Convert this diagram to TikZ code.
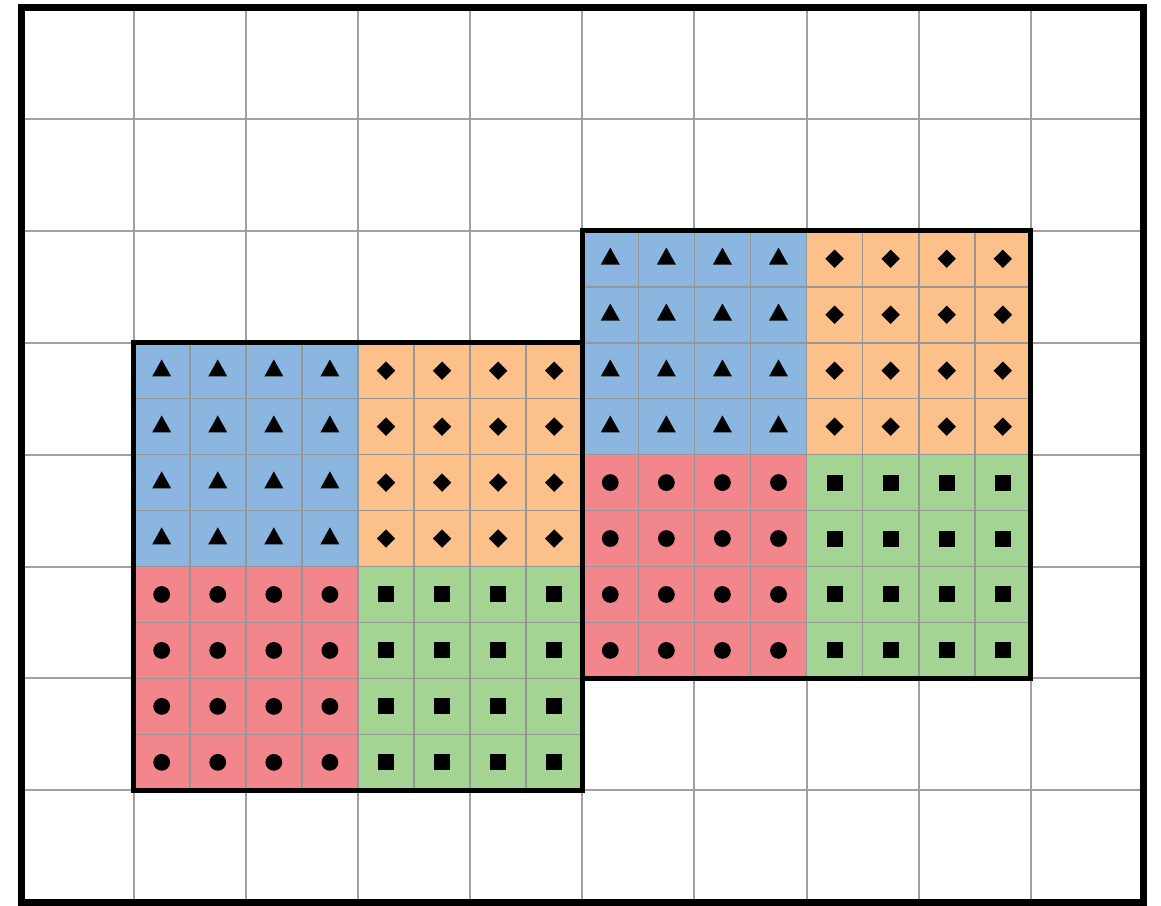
\documentclass[tikz,border=0pt]{standalone}
\definecolor{cblue}{RGB}{138,182,224}
\definecolor{corange}{RGB}{252,193,138}
\definecolor{cred}{RGB}{242,134,140}
\definecolor{cgreen}{RGB}{163,212,148}
\definecolor{gline}{RGB}{160,160,160}
\definecolor{sline}{RGB}{150,150,150}
\tikzset{
  gridline/.style={draw=gline, line width=1pt},
  subline/.style={draw=sline, line width=0.8pt},
  blockborder/.style={draw=black, line width=2.5pt},
  outerborder/.style={draw=black, line width=3.5pt},
  marker/.style={fill=black, draw=none}
}
\begin{document}
\begin{tikzpicture}[x=56.075pt,y=-55.95pt]
\useasboundingbox (-0.1917,-0.0626) rectangle (10.1605,8.0313);
% main grid
\foreach \i in {1,...,9} \draw[gridline] (\i,0) -- (\i,8);
\foreach \j in {1,...,7} \draw[gridline] (0,\j) -- (10,\j);
% blocks
\foreach \bx/\by in {1/3, 5/2} {
  \fill[cblue]   (\bx,\by) rectangle ++(2,2);
  \fill[corange] ({\bx+2},\by) rectangle ++(2,2);
  \fill[cred]    (\bx,{\by+2}) rectangle ++(2,2);
  \fill[cgreen]  ({\bx+2},{\by+2}) rectangle ++(2,2);
  \foreach \k in {1,...,7} {
    \draw[subline] ({\bx+\k*0.5},\by) -- ++(0,4);
    \draw[subline] (\bx,{\by+\k*0.5}) -- ++(4,0);
  }
  \foreach \i in {0,...,3} {
    \foreach \j in {0,...,3} {
      % triangles (blue)
      \fill[marker] ({\bx+0.25+0.5*\i},{\by+0.25+0.5*\j}) ++(-4.75pt,-2.9pt) -- ++(9.5pt,0pt) -- ++(-4.75pt,8.5pt) -- cycle;
      % diamonds (orange)
      \fill[marker] ({\bx+2.25+0.5*\i},{\by+0.25+0.5*\j}) ++(-4.6pt,0pt) -- ++(4.6pt,4.6pt) -- ++(4.6pt,-4.6pt) -- ++(-4.6pt,-4.6pt) -- cycle;
      % circles (red)
      \fill[marker] ({\bx+0.25+0.5*\i},{\by+2.25+0.5*\j}) circle[radius=4.2pt];
      % squares (green)
      \fill[marker] ({\bx+2.25+0.5*\i},{\by+2.25+0.5*\j}) ++(-4pt,-4pt) rectangle ++(8pt,8pt);
    }
  }
}
\foreach \bx/\by in {1/3, 5/2} \draw[blockborder] (\bx,\by) rectangle ++(4,4);
% outer border
\draw[outerborder] (0,0) rectangle (10,8);
\end{tikzpicture}
\end{document}
